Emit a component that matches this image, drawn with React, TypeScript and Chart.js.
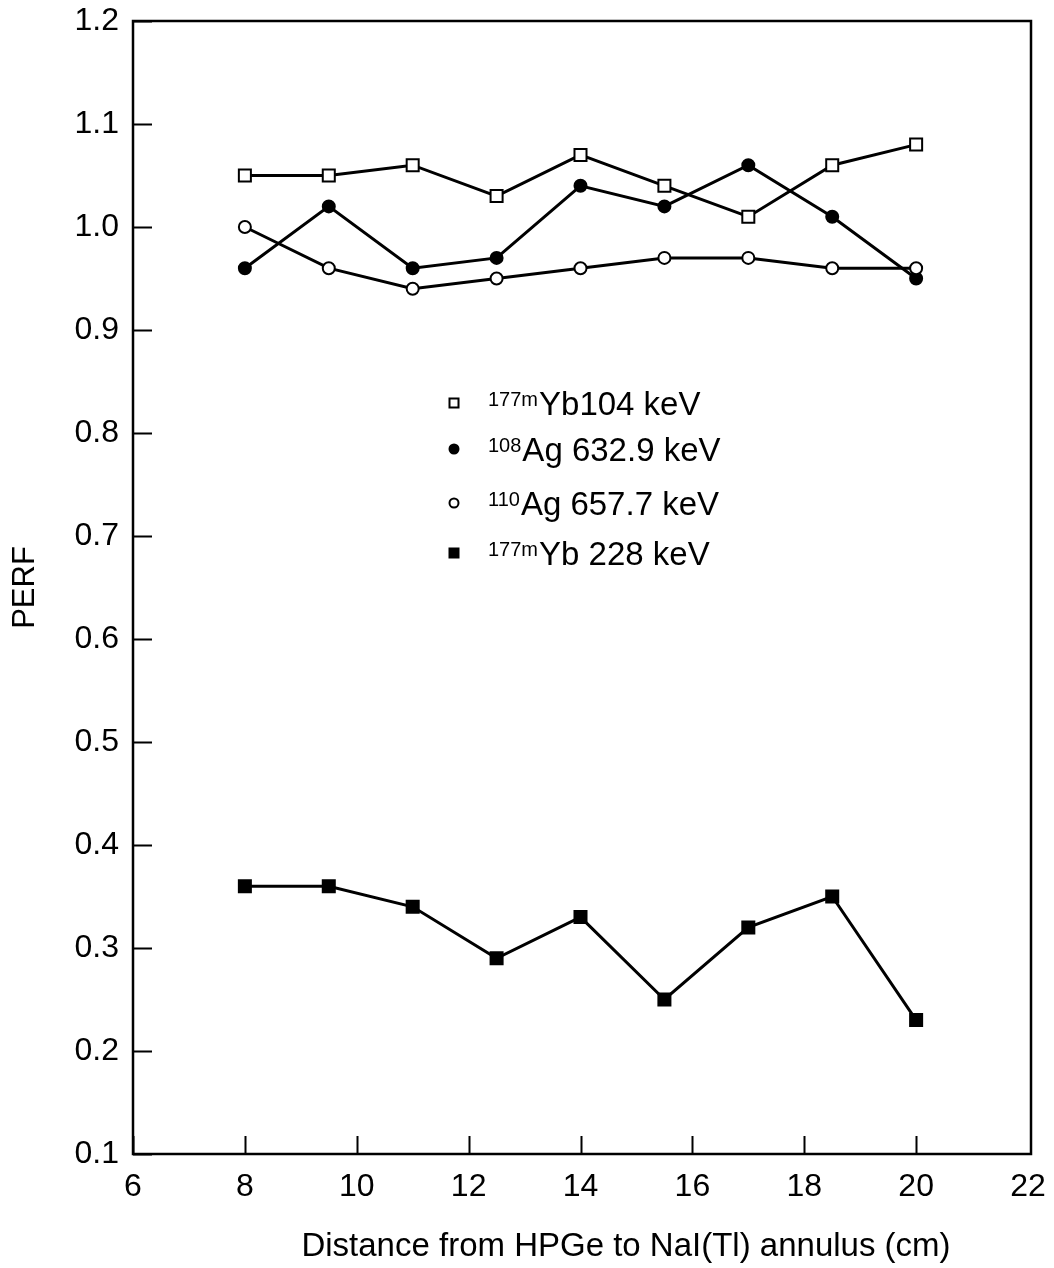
import React, { useEffect, useRef } from "react";
import { Chart, registerables } from "chart.js";

Chart.register(...registerables);

// ---- data ----
const distances = [8, 9.5, 11, 12.5, 14, 15.5, 17, 18.5, 20];
const yb104 = [1.05, 1.05, 1.06, 1.03, 1.07, 1.04, 1.01, 1.06, 1.08];
const ag108 = [0.96, 1.02, 0.96, 0.97, 1.04, 1.02, 1.06, 1.01, 0.95];
const ag110 = [1.0, 0.96, 0.94, 0.95, 0.96, 0.97, 0.97, 0.96, 0.96];
const yb228 = [0.36, 0.36, 0.34, 0.29, 0.33, 0.25, 0.32, 0.35, 0.23];

const seriesSup = ["177m", "108", "110", "177m"];
const seriesMain = ["Yb104 keV", "Ag 632.9 keV", "Ag 657.7 keV", "Yb 228 keV"];

const xTickMin = 6;
const xTickMax = 22;
const xTickStep = 2;
const yTickMin = 0.1;
const yTickMax = 1.2;
const yTickStep = 0.1;

const xTitle = "Distance from HPGe to NaI(Tl) annulus (cm)";
const yTitle = "PERF";

const FONT = '"Liberation Sans", Arial, sans-serif';

const toPoints = (ys: number[]) => distances.map((x, i) => ({ x, y: ys[i] }));

const framePlugin = {
  id: "frameAndTicks",
  afterDatasetsDraw(chart: any) {
    const { ctx, chartArea } = chart;
    const xs = chart.scales.x;
    const ys = chart.scales.y;
    ctx.save();
    ctx.strokeStyle = "#000";
    ctx.lineWidth = 2;
    ctx.beginPath();
    ys.ticks.forEach((t: any) => {
      const py = Math.round(ys.getPixelForValue(t.value)) + 0.5;
      ctx.moveTo(chartArea.left, py);
      ctx.lineTo(chartArea.left + 19, py);
    });
    xs.ticks.forEach((t: any) => {
      if (t.value >= xTickMax) return;
      const px = Math.round(xs.getPixelForValue(t.value)) + 0.5;
      ctx.moveTo(px, chartArea.bottom);
      ctx.lineTo(px, chartArea.bottom - 18);
    });
    ctx.stroke();
    ctx.lineWidth = 2.5;
    ctx.strokeRect(
      chartArea.left,
      chartArea.top,
      chartArea.right - chartArea.left + 3,
      chartArea.bottom - chartArea.top
    );
    // x-axis title, placed as in the original (offset right of centre)
    ctx.fillStyle = "#000";
    ctx.font = `33px ${FONT}`;
    ctx.textAlign = "center";
    ctx.textBaseline = "alphabetic";
    ctx.fillText(xTitle, chartArea.left + 493, chartArea.bottom + 102);
    ctx.restore();
  },
};

const legendRowsY = [403, 449, 503, 553];

const legendPlugin = {
  id: "customLegend",
  afterDraw(chart: any) {
    const { ctx, chartArea } = chart;
    const markerX = chartArea.left + 321;
    const textX = chartArea.left + 355;
    ctx.save();
    chart.data.datasets.forEach((ds: any, i: number) => {
      const cy = legendRowsY[i];
      ctx.lineWidth = 2;
      ctx.strokeStyle = ds.pointBorderColor;
      ctx.fillStyle = ds.pointBackgroundColor;
      ctx.beginPath();
      if (ds.pointStyle === "rect") {
        ctx.rect(markerX - 4.5, cy - 4.5, 9, 9);
      } else {
        ctx.arc(markerX, cy, 4.5, 0, Math.PI * 2);
      }
      ctx.fill();
      ctx.stroke();
      ctx.fillStyle = "#000";
      ctx.textBaseline = "alphabetic";
      ctx.textAlign = "left";
      ctx.font = `20px ${FONT}`;
      ctx.fillText(seriesSup[i], textX, cy + 3);
      const w = ctx.measureText(seriesSup[i]).width;
      ctx.font = `33px ${FONT}`;
      ctx.fillText(seriesMain[i], textX + w + 1, cy + 12);
    });
    ctx.restore();
  },
};

export default function App() {
  const ref = useRef<HTMLCanvasElement | null>(null);

  useEffect(() => {
    document.body.style.margin = "0";
    const canvas = ref.current;
    if (!canvas) return;

    const common = {
      borderColor: "#000",
      borderWidth: 3,
      pointBorderColor: "#000",
      pointBorderWidth: 2,
      showLine: true,
      tension: 0,
    };

    const chart = new Chart(canvas, {
      type: "line",
      data: {
        datasets: [
          {
            ...common,
            label: seriesSup[0] + seriesMain[0],
            data: toPoints(yb104),
            pointStyle: "rect",
            pointRadius: 8.5,
            pointBackgroundColor: "#fff",
          },
          {
            ...common,
            label: seriesSup[1] + seriesMain[1],
            data: toPoints(ag108),
            pointStyle: "circle",
            pointRadius: 6,
            pointBackgroundColor: "#000",
            order: 2,
          },
          {
            ...common,
            label: seriesSup[2] + seriesMain[2],
            data: toPoints(ag110),
            pointStyle: "circle",
            pointRadius: 6,
            pointBackgroundColor: "#fff",
            order: 1,
          },
          {
            ...common,
            label: seriesSup[3] + seriesMain[3],
            data: toPoints(yb228),
            pointStyle: "rect",
            pointRadius: 8.5,
            pointBackgroundColor: "#000",
          },
        ] as any,
      },
      options: {
        animation: false,
        responsive: false,
        maintainAspectRatio: false,
        layout: { padding: { left: 0, top: 21, right: 26, bottom: 0 } },
        plugins: {
          legend: { display: false },
          tooltip: { enabled: false },
        },
        scales: {
          x: {
            type: "linear",
            min: xTickMin,
            max: xTickMax,
            grid: { display: false, drawTicks: false },
            border: { display: false },
            ticks: {
              stepSize: xTickStep,
              color: "#000",
              padding: 14,
              font: { family: FONT, size: 32 },
              maxRotation: 0,
            },
            afterFit: (scale: any) => {
              scale.height = 114;
              scale.paddingLeft = 0;
              scale.paddingRight = 0;
            },
          },
          y: {
            type: "linear",
            min: yTickMin,
            max: yTickMax,
            grid: { display: false, drawTicks: false },
            border: { display: false },
            ticks: {
              stepSize: yTickStep,
              color: "#000",
              padding: 14,
              font: { family: FONT, size: 32 },
              callback: (v: any) => Number(v).toFixed(1),
            },
            title: {
              display: true,
              text: yTitle,
              color: "#000",
              font: { family: FONT, size: 31 },
              padding: { top: 7, bottom: 0 },
            },
            afterFit: (scale: any) => {
              scale.width = 133;
              scale.paddingTop = 0;
              scale.paddingBottom = 0;
            },
          },
        },
      } as any,
      plugins: [framePlugin, legendPlugin],
    });

    return () => chart.destroy();
  }, []);

  return (
    <div style={{ width: 1054, height: 1268, background: "#fff" }}>
      <canvas ref={ref} width={1054} height={1268} style={{ display: "block" }} />
    </div>
  );
}
